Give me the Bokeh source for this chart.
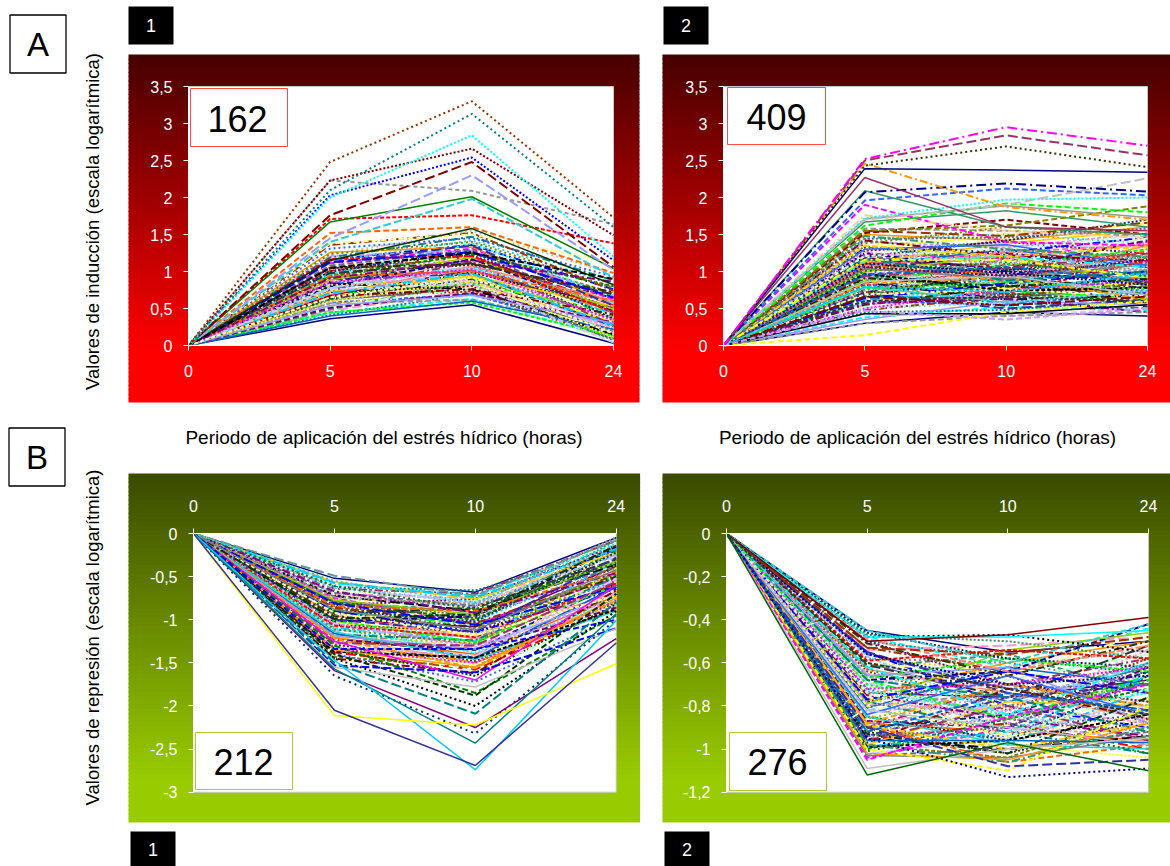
import math
from bokeh.plotting import figure
from bokeh.layouts import column, row
from bokeh.models import Range1d, LinearAxis, FixedTicker
from bokeh.core.properties import value
from bokeh.embed import file_html
from bokeh.resources import INLINE

# ---------------- data ----------------
HOURS = ["0", "5", "10", "24"]          # category labels of the x axis
XPOS = [0, 1, 2, 3]                     # category positions
A_TICKS = [0, 0.5, 1, 1.5, 2, 2.5, 3, 3.5]
B1_TICKS = [0, -0.5, -1, -1.5, -2, -2.5, -3]
B2_TICKS = [0, -0.2, -0.4, -0.6, -0.8, -1.0, -1.2]
COUNT_A1, COUNT_A2, COUNT_B1, COUNT_B2 = "162", "409", "212", "276"
X_TITLE = "Periodo de aplicación del estrés hídrico (horas)"
Y_TITLE_A = "Valores de inducción (escala logarítmica)"
Y_TITLE_B = "Valores de represión (escala logarítmica)"

# Panel A1 (induced, 1) - bulk of profiles
A1_BAND = [
    [0, 0.36, 0.55, 0.03], [0, 0.44, 0.63, 0.10], [0, 0.41, 0.70, 0.18], [0, 0.52, 0.66, 0.06],
    [0, 0.47, 0.74, 0.27], [0, 0.58, 0.69, 0.14], [0, 0.55, 0.81, 0.33], [0, 0.61, 0.77, 0.21],
    [0, 0.49, 0.86, 0.40], [0, 0.66, 0.73, 0.09], [0, 0.63, 0.90, 0.29], [0, 0.70, 0.84, 0.45],
    [0, 0.59, 0.95, 0.36], [0, 0.74, 0.88, 0.19], [0, 0.68, 1.02, 0.52], [0, 0.79, 0.93, 0.31],
    [0, 0.72, 0.80, 0.12], [0, 0.83, 1.06, 0.43], [0, 0.77, 0.98, 0.24], [0, 0.88, 1.12, 0.58],
    [0, 0.81, 0.91, 0.38], [0, 0.92, 1.01, 0.47], [0, 0.86, 1.16, 0.64], [0, 0.97, 1.09, 0.35],
    [0, 0.90, 0.97, 0.26], [0, 1.01, 1.20, 0.55], [0, 0.95, 1.26, 0.71], [0, 1.06, 1.14, 0.42],
    [0, 0.99, 1.04, 0.17], [0, 1.11, 1.31, 0.62], [0, 1.04, 1.22, 0.49], [0, 1.16, 1.36, 0.76],
    [0, 1.09, 1.18, 0.33], [0, 1.21, 1.28, 0.68], [0, 1.14, 1.42, 0.83], [0, 1.26, 1.33, 0.57],
    [0, 0.57, 0.62, 0.20], [0, 0.64, 0.99, 0.50], [0, 0.75, 1.13, 0.28], [0, 0.84, 0.76, 0.15],
    [0, 0.93, 1.24, 0.80], [0, 1.03, 0.95, 0.39], [0, 0.69, 1.07, 0.61], [0, 0.80, 1.17, 0.46],
    [0, 0.96, 1.38, 0.66], [0, 1.19, 1.47, 0.88], [0, 0.53, 0.78, 0.41], [0, 0.87, 0.87, 0.23],
    [0, 1.31, 1.45, 0.93], [0, 0.73, 0.94, 0.53], [0, 1.08, 1.29, 0.44], [0, 0.62, 0.83, 0.07],
    [0, 1.36, 1.52, 0.74], [0, 0.98, 1.11, 0.69], [0, 0.45, 0.58, 0.13], [0, 1.23, 1.55, 0.97],
    [0, 0.40, 0.60, 0.22], [0, 0.51, 0.71, 0.31], [0, 0.60, 0.87, 0.11], [0, 0.67, 0.76, 0.42],
    [0, 0.71, 0.97, 0.27], [0, 0.78, 1.05, 0.57], [0, 0.82, 0.85, 0.19], [0, 0.89, 1.19, 0.49],
    [0, 0.94, 1.00, 0.60], [0, 1.00, 1.27, 0.36], [0, 1.05, 1.10, 0.72], [0, 1.12, 1.35, 0.54],
    [0, 1.17, 1.21, 0.45], [0, 1.24, 1.40, 0.78], [0, 0.54, 0.68, 0.30], [0, 0.76, 0.83, 0.04],
    [0, 0.85, 1.03, 0.34], [0, 0.91, 1.15, 0.86], [0, 1.13, 1.26, 0.65], [0, 0.65, 0.92, 0.16],
]
# Panel A1 - profiles standing out above the bulk
A1_TOP = [
    [0, 1.38, 1.50, 1.12], [0, 1.52, 1.60, 0.98], [0, 1.15, 1.58, 0.82], [0, 1.05, 1.25, 0.90],
    [0, 1.71, 1.76, 1.38], [0, 1.40, 1.98, 0.92], [0, 1.67, 2.01, 1.04], [0, 2.23, 2.09, 1.64],
    [0, 1.45, 2.30, 1.02], [0, 1.76, 2.48, 1.06], [0, 2.03, 2.54, 1.15], [0, 2.23, 2.66, 1.49],
    [0, 2.00, 2.84, 1.20], [0, 2.10, 3.13, 1.60], [0, 2.48, 3.30, 1.73],
]

# Panel A2 (induced, 2)
A2_BAND = [
    [0, 0.30, 0.45, 0.40], [0, 0.38, 0.52, 0.48], [0, 0.45, 0.48, 0.62], [0, 0.52, 0.60, 0.55],
    [0, 0.55, 0.70, 0.66], [0, 0.60, 0.55, 0.72], [0, 0.62, 0.78, 0.58], [0, 0.66, 0.64, 0.80],
    [0, 0.70, 0.85, 0.70], [0, 0.72, 0.68, 0.86], [0, 0.75, 0.90, 0.78], [0, 0.78, 0.74, 0.64],
    [0, 0.80, 0.95, 0.92], [0, 0.83, 0.82, 0.74], [0, 0.85, 1.00, 0.98], [0, 0.88, 0.76, 0.84],
    [0, 0.90, 1.05, 0.88], [0, 0.93, 0.88, 1.02], [0, 0.95, 1.10, 0.95], [0, 0.98, 0.92, 1.08],
    [0, 1.00, 1.15, 1.00], [0, 1.03, 0.97, 0.90], [0, 1.05, 1.20, 1.14], [0, 1.08, 1.02, 1.20],
    [0, 1.10, 1.25, 1.06], [0, 1.13, 1.08, 1.26], [0, 1.15, 1.30, 1.18], [0, 1.18, 1.12, 1.00],
    [0, 1.20, 1.35, 1.32], [0, 1.24, 1.18, 1.40], [0, 1.28, 1.40, 1.24], [0, 1.32, 1.26, 1.46],
    [0, 1.36, 1.45, 1.30], [0, 1.40, 1.32, 1.52], [0, 1.45, 1.50, 1.38], [0, 1.50, 1.42, 1.60],
    [0, 1.58, 1.55, 1.48], [0, 0.65, 1.02, 1.10], [0, 0.75, 1.18, 0.82], [0, 0.85, 0.62, 0.68],
    [0, 0.95, 0.70, 0.60], [0, 1.05, 0.80, 0.75], [0, 1.15, 0.90, 1.35], [0, 1.25, 1.00, 0.85],
    [0, 0.58, 0.88, 1.22], [0, 0.68, 0.58, 0.50], [0, 0.82, 1.12, 1.45], [0, 0.92, 1.28, 1.12],
    [0, 1.02, 0.66, 0.92], [0, 1.12, 1.38, 1.56], [0, 1.22, 0.95, 1.12], [0, 1.34, 1.10, 0.96],
    [0, 0.48, 0.66, 0.85], [0, 0.72, 0.96, 0.52], [0, 0.88, 1.08, 1.30], [0, 0.98, 0.84, 0.70],
    [0, 1.08, 1.30, 1.05], [0, 1.18, 1.04, 1.42], [0, 1.30, 1.50, 1.65], [0, 1.42, 1.22, 1.15],
    [0, 0.62, 0.72, 0.95], [0, 0.78, 0.62, 0.45], [0, 0.90, 0.98, 0.58], [0, 1.00, 1.22, 0.80],
    [0, 1.10, 0.86, 1.28], [0, 1.20, 1.42, 1.70], [0, 0.55, 0.80, 0.70], [0, 0.70, 0.50, 0.62],
    [0, 0.82, 0.70, 1.15], [0, 1.38, 1.60, 1.50],
    [0, 0.35, 0.60, 0.55], [0, 0.42, 0.40, 0.50], [0, 0.50, 0.75, 0.88], [0, 0.57, 0.63, 0.45],
    [0, 0.64, 0.84, 1.00], [0, 0.69, 0.76, 0.66], [0, 0.74, 0.98, 1.18], [0, 0.79, 0.58, 0.74],
    [0, 0.84, 0.92, 0.62], [0, 0.87, 1.16, 1.02], [0, 0.91, 0.80, 0.90], [0, 0.94, 1.04, 1.24],
    [0, 0.97, 0.74, 0.78], [0, 1.01, 1.12, 0.94], [0, 1.04, 0.90, 1.10], [0, 1.07, 1.26, 1.36],
    [0, 1.11, 0.98, 0.82], [0, 1.14, 1.20, 1.06], [0, 1.17, 0.88, 1.00], [0, 1.21, 1.30, 1.50],
    [0, 1.26, 1.10, 1.22], [0, 1.30, 1.36, 1.08], [0, 1.35, 1.20, 1.34], [0, 1.44, 1.46, 1.58],
    [0, 1.48, 1.30, 1.20], [0, 1.55, 1.48, 1.66], [0, 0.60, 0.66, 0.58], [0, 0.76, 0.86, 0.76],
    [0, 0.86, 0.94, 0.68], [0, 0.96, 1.06, 0.86], [0, 1.06, 0.94, 1.16], [0, 1.16, 1.16, 0.92],
    [0, 0.66, 0.54, 0.66], [0, 0.80, 0.72, 0.98], [0, 0.50, 0.58, 0.74],
]
A2_TOP = [
    [0, 0.30, 0.40, 0.45], [0, 0.14, 0.45, 0.60], [0, 0.43, 0.43, 0.55], [0, 0.47, 0.35, 0.50],
    [0, 1.52, 1.70, 1.50], [0, 1.55, 1.62, 1.88], [0, 1.90, 1.40, 1.35], [0, 1.67, 1.82, 1.60],
    [0, 1.76, 1.55, 1.45], [0, 1.71, 1.89, 1.73], [0, 1.62, 1.92, 1.80], [0, 1.72, 1.97, 2.00],
    [0, 1.96, 2.12, 2.03], [0, 2.09, 1.60, 1.50], [0, 1.70, 1.90, 2.26], [0, 2.07, 2.19, 2.08],
    [0, 2.27, 1.60, 1.55], [0, 2.46, 1.87, 1.70], [0, 2.39, 2.37, 2.34], [0, 2.43, 2.69, 2.41],
    [0, 2.50, 2.84, 2.57], [0, 2.52, 2.95, 2.70],
]

# Panel B1 (repressed, 1)
B1_BAND = [
    [0, -0.52, -0.68, -0.05], [0, -0.58, -0.72, -0.12], [0, -0.62, -0.66, -0.20], [0, -0.66, -0.78, -0.10],
    [0, -0.70, -0.75, -0.28], [0, -0.73, -0.85, -0.18], [0, -0.76, -0.80, -0.35], [0, -0.79, -0.92, -0.25],
    [0, -0.82, -0.88, -0.15], [0, -0.85, -0.98, -0.40], [0, -0.88, -0.94, -0.30], [0, -0.91, -1.05, -0.48],
    [0, -0.94, -1.00, -0.22], [0, -0.97, -1.12, -0.55], [0, -1.00, -1.08, -0.38], [0, -1.03, -1.18, -0.45],
    [0, -1.06, -1.14, -0.60], [0, -1.09, -1.25, -0.32], [0, -1.12, -1.20, -0.52], [0, -1.15, -1.32, -0.66],
    [0, -1.18, -1.28, -0.42], [0, -1.21, -1.40, -0.72], [0, -1.25, -1.35, -0.58], [0, -1.29, -1.48, -0.80],
    [0, -1.33, -1.45, -0.62], [0, -1.38, -1.58, -0.85], [0, -1.43, -1.55, -0.70], [0, -0.60, -0.82, -0.30],
    [0, -0.68, -0.95, -0.44], [0, -0.75, -1.05, -0.52], [0, -0.83, -0.76, -0.14], [0, -0.90, -1.15, -0.64],
    [0, -0.98, -0.90, -0.26], [0, -1.05, -1.30, -0.76], [0, -1.13, -1.02, -0.34], [0, -1.20, -1.50, -0.88],
    [0, -1.28, -1.10, -0.46], [0, -1.35, -1.65, -0.82], [0, -0.64, -0.70, -0.08], [0, -0.72, -0.90, -0.36],
    [0, -0.80, -1.00, -0.20], [0, -0.87, -1.10, -0.56], [0, -0.95, -1.22, -0.68], [0, -1.02, -0.96, -0.16],
    [0, -1.10, -1.38, -0.78], [0, -1.17, -1.24, -0.50], [0, -1.24, -1.60, -0.92], [0, -1.32, -1.42, -0.54],
    [0, -1.40, -1.72, -0.96], [0, -0.56, -0.76, -0.22], [0, -0.69, -0.84, -0.40], [0, -0.78, -0.96, -0.08],
    [0, -0.86, -1.04, -0.48], [0, -0.93, -0.86, -0.30], [0, -1.01, -1.26, -0.60], [0, -1.08, -1.16, -0.74],
    [0, -1.16, -1.44, -0.62], [0, -1.23, -1.34, -0.86], [0, -1.31, -1.52, -0.40], [0, -1.45, -1.62, -0.66],
    [0, -0.57, -0.74, -0.18], [0, -0.63, -0.80, -0.26], [0, -0.71, -0.86, -0.12], [0, -0.77, -0.94, -0.32],
    [0, -0.84, -0.90, -0.44], [0, -0.89, -1.02, -0.22], [0, -0.96, -1.08, -0.50], [0, -1.00, -1.14, -0.28],
    [0, -1.07, -1.20, -0.58], [0, -1.11, -1.28, -0.36], [0, -1.19, -1.34, -0.70], [0, -1.26, -1.42, -0.52],
    [0, -1.34, -1.50, -0.78], [0, -0.67, -0.92, -0.46], [0, -0.81, -1.06, -0.62], [0, -0.92, -1.18, -0.72],
    [0, -1.04, -1.32, -0.84], [0, -1.14, -1.46, -0.90], [0, -1.22, -1.56, -0.78], [0, -0.74, -0.82, -0.04],
    [0, -0.99, -0.94, -0.14], [0, -1.27, -1.30, -0.56], [0, -1.37, -1.44, -0.88], [0, -0.61, -0.88, -0.34],
    [0, -0.88, -1.12, -0.42],
]
B1_TOP = [
    [0, -0.49, -0.72, -0.08], [0, -0.55, -0.80, -0.12], [0, -1.35, -1.55, -0.75], [0, -1.25, -1.70, -0.60],
    [0, -1.30, -1.85, -0.95], [0, -1.45, -2.00, -0.90], [0, -1.40, -1.88, -0.70], [0, -1.34, -1.34, -1.00],
    [0, -1.53, -1.61, -1.10], [0, -1.55, -1.78, -1.10], [0, -1.50, -2.09, -0.80], [0, -1.65, -2.32, -1.00],
    [0, -1.59, -2.25, -1.22], [0, -1.57, -2.43, -0.93], [0, -1.47, -2.74, -1.01], [0, -2.11, -2.22, -1.51],
    [0, -2.05, -2.69, -1.27],
]

# Panel B2 (repressed, 2)
B2_BAND = [
    [0, -0.45, -0.55, -0.50], [0, -0.48, -0.62, -0.44], [0, -0.50, -0.58, -0.65], [0, -0.52, -0.68, -0.56],
    [0, -0.54, -0.52, -0.48], [0, -0.56, -0.72, -0.70], [0, -0.58, -0.64, -0.52], [0, -0.60, -0.78, -0.62],
    [0, -0.62, -0.56, -0.74], [0, -0.64, -0.82, -0.58], [0, -0.66, -0.70, -0.80], [0, -0.68, -0.86, -0.66],
    [0, -0.70, -0.62, -0.54], [0, -0.72, -0.90, -0.84], [0, -0.74, -0.76, -0.68], [0, -0.76, -0.94, -0.76],
    [0, -0.78, -0.66, -0.88], [0, -0.80, -0.98, -0.72], [0, -0.82, -0.80, -0.60], [0, -0.84, -1.00, -0.92],
    [0, -0.86, -0.72, -0.78], [0, -0.88, -0.92, -0.96], [0, -0.90, -0.84, -0.64], [0, -0.92, -1.02, -0.86],
    [0, -0.94, -0.76, -0.70], [0, -0.96, -0.88, -1.00], [0, -0.98, -1.04, -0.82], [0, -1.00, -0.82, -0.90],
    [0, -1.02, -0.95, -0.76], [0, -1.04, -0.90, -0.98], [0, -0.50, -0.70, -0.78], [0, -0.55, -0.80, -0.90],
    [0, -0.60, -0.66, -0.46], [0, -0.65, -0.88, -0.96], [0, -0.70, -0.78, -0.60], [0, -0.75, -0.60, -0.50],
    [0, -0.80, -0.74, -0.84], [0, -0.85, -0.96, -0.66], [0, -0.90, -0.70, -0.58], [0, -0.95, -1.00, -0.94],
    [0, -1.00, -0.86, -0.72], [0, -0.58, -0.60, -0.70], [0, -0.63, -0.74, -0.86], [0, -0.68, -0.64, -0.42],
    [0, -0.73, -0.84, -0.74], [0, -0.78, -0.92, -1.02], [0, -0.83, -0.68, -0.56], [0, -0.88, -0.80, -0.88],
    [0, -0.93, -0.94, -0.68], [0, -0.98, -0.78, -0.80], [0, -1.03, -1.00, -0.92], [0, -0.47, -0.50, -0.58],
    [0, -0.53, -0.64, -0.74], [0, -0.61, -0.76, -0.52], [0, -0.67, -0.58, -0.64], [0, -0.77, -0.86, -0.82],
    [0, -0.81, -0.62, -0.70], [0, -0.87, -0.90, -0.62], [0, -0.91, -0.98, -1.04], [0, -0.97, -0.72, -0.86],
    [0, -0.99, -0.92, -0.66], [0, -0.57, -0.84, -0.94], [0, -0.71, -0.96, -0.86], [0, -0.79, -0.54, -0.46],
    [0, -0.89, -1.06, -0.98],
    [0, -0.46, -0.58, -0.62], [0, -0.51, -0.66, -0.50], [0, -0.55, -0.74, -0.82], [0, -0.59, -0.54, -0.58],
    [0, -0.63, -0.80, -0.70], [0, -0.66, -0.62, -0.88], [0, -0.69, -0.92, -0.80], [0, -0.72, -0.70, -0.62],
    [0, -0.75, -0.86, -0.94], [0, -0.77, -0.64, -0.74], [0, -0.80, -0.94, -0.84], [0, -0.83, -0.76, -0.66],
    [0, -0.85, -0.98, -1.00], [0, -0.88, -0.70, -0.80], [0, -0.91, -0.86, -0.92], [0, -0.93, -1.02, -0.76],
    [0, -0.96, -0.80, -0.96], [0, -0.99, -0.96, -0.84], [0, -1.01, -0.88, -1.02], [0, -1.03, -1.04, -0.94],
    [0, -0.49, -0.64, -0.52], [0, -0.56, -0.70, -0.66], [0, -0.62, -0.84, -0.60], [0, -0.68, -0.76, -0.92],
    [0, -0.74, -0.94, -0.72], [0, -0.79, -0.82, -0.54], [0, -0.84, -0.66, -0.84], [0, -0.89, -1.00, -0.88],
    [0, -0.94, -0.90, -0.60], [0, -0.98, -1.06, -0.90], [0, -0.53, -0.56, -0.48], [0, -0.60, -0.72, -0.84],
    [0, -0.70, -0.86, -0.68], [0, -0.82, -0.90, -0.98], [0, -0.92, -0.74, -0.82],
]
B2_TOP = [
    [0, -0.45, -0.60, -0.42], [0, -1.02, -1.05, -0.88], [0, -1.00, -1.10, -0.80], [0, -1.05, -0.85, -0.70],
    [0, -0.48, -0.47, -0.55], [0, -0.48, -0.48, -0.45], [0, -0.50, -0.47, -0.39], [0, -0.96, -0.96, -0.97],
    [0, -1.09, -1.00, -0.95], [0, -0.90, -1.08, -1.05], [0, -0.95, -1.13, -1.09], [0, -1.12, -0.97, -1.10],
]

# ---------------- styles ----------------
PALETTE = ["#000080", "#FF00FF", "#FFFF00", "#00FFFF", "#800080", "#800000", "#008080", "#0000FF",
           "#00CCFF", "#CCFFCC", "#FFFF99", "#99CCFF", "#FF99CC", "#CC99FF", "#FFCC99", "#3366FF",
           "#33CCCC", "#99CC00", "#FFCC00", "#FF9900", "#FF6600", "#666699", "#969696", "#003366",
           "#339966", "#003300", "#333300", "#993300", "#993366", "#333399", "#333333", "#000000",
           "#FF0000", "#00FF00", "#008000", "#808000", "#C0C0C0", "#808080", "#9999FF", "#0066CC",
           "#FF8080", "#CCCCFF", "#660066"]
DASHES = ["solid", "6 3", "2 2", "8 3 2 3", "10 4", "4 2", "2 3"]

A1_TOP_STYLE = [("#FFFF99", "6 3"), ("#FF6600", "6 3"), ("#003300", "solid"), ("#000000", "6 3"),
                ("#FF0000", "4 2"), ("#33CCCC", "8 3"), ("#008000", "solid"), ("#969696", "4 3"),
                ("#9999FF", "10 4"), ("#800000", "10 4"), ("#0000FF", "2 2"), ("#800000", "2 2"),
                ("#00FFFF", "2 2"), ("#008080", "2 3"), ("#993300", "2 3")]
A2_TOP_STYLE = [("#969696", "6 3"), ("#FFFF00", "6 3"), ("#000000", "solid"), ("#CC99FF", "6 3"),
                ("#800000", "6 3"), ("#808000", "6 3"), ("#FF00FF", "6 3"), ("#339966", "solid"),
                ("#FFCC99", "8 3 2 3"), ("#969696", "solid"), ("#00FF00", "6 3"), ("#00FFFF", "2 2"),
                ("#3366FF", "6 3"), ("#339966", "solid"), ("#C0C0C0", "10 4"), ("#000080", "10 4 2 4"),
                ("#993366", "solid"), ("#FF9900", "8 3 2 3"), ("#000080", "solid"), ("#333300", "2 3"),
                ("#993366", "10 4"), ("#FF00FF", "10 4 2 4")]
B1_TOP_STYLE = [("#669999", "10 4"), ("#33CCCC", "2 3"), ("#FF9900", "solid"), ("#FF00FF", "solid"),
                ("#008000", "6 3"), ("#000000", "2 3"), ("#003300", "6 3"), ("#0000FF", "6 3"),
                ("#0000FF", "8 3"), ("#C0C0C0", "solid"), ("#008080", "10 4"), ("#003366", "2 4"),
                ("#800080", "solid"), ("#008080", "solid"), ("#00CCFF", "solid"), ("#FFFF00", "solid"),
                ("#333399", "solid")]
B2_TOP_STYLE = [("#33CCCC", "6 3"), ("#FF9900", "solid"), ("#FFFF00", "6 3"), ("#FF00FF", "6 3"),
                ("#000000", "2 3"), ("#00FFFF", "solid"), ("#800000", "solid"), ("#0066CC", "solid"),
                ("#C0C0C0", "solid"), ("#333399", "10 4"), ("#000080", "2 3"), ("#006600", "solid")]

FONT = "Liberation Sans"


def hexmix(c0, c1, t):
    a = [int(c0[i:i + 2], 16) for i in (1, 3, 5)]
    b = [int(c1[i:i + 2], 16) for i in (1, 3, 5)]
    return "#%02x%02x%02x" % tuple(int(round(a[k] + (b[k] - a[k]) * t)) for k in range(3))


def make_panel(fx0, fy0, w, h, px0, px3, py_top, py_bot, y_top, y_bot):
    sx = (px3 - px0) / 3.0
    sy = (py_bot - py_top) / (y_top - y_bot)

    def X(px):
        return (px - px0) / sx

    def Y(py):
        return y_top - (py - py_top) / sy

    p = figure(width=w, height=h, x_range=Range1d(X(fx0), X(fx0 + w)),
               y_range=Range1d(Y(fy0 + h), Y(fy0)), output_backend="svg",
               toolbar_location=None, min_border=0, x_axis_type=None, y_axis_type=None,
               title=None)
    p.outline_line_color = None
    p.background_fill_color = "white"
    p.border_fill_color = "white"
    return p, X, Y


def gradient(p, X, Y, left, right, top, bottom, c0, c1, frac, n=80):
    step = (bottom - top) / n
    tops, bots, cols = [], [], []
    for i in range(n):
        a = top + i * step
        b = min(bottom, a + step + 0.8)
        tops.append(Y(a))
        bots.append(Y(b))
        cols.append(hexmix(c0, c1, min(1.0, (i + 0.5) / n / frac)))
    p.quad(left=[X(left)] * n, right=[X(right)] * n, top=tops, bottom=bots,
           fill_color=cols, line_color=None)


def plot_area(p, y_top, y_bot):
    p.quad(left=[0], right=[3], top=[y_top], bottom=[y_bot], fill_color="white",
           line_color="#C8C8C8", line_width=1)


def draw_lines(p, band, top, top_style):
    for i, ys in enumerate(band):
        dash = DASHES[i % len(DASHES)]
        p.line(XPOS, ys, line_color=PALETTE[(i * 3) % len(PALETTE)], line_dash=dash,
               line_width=1.5 if dash == "solid" else 2.0)
    for ys, (col, dash) in zip(top, top_style):
        p.line(XPOS, ys, line_color=col, line_dash=dash,
               line_width=1.5 if dash == "solid" else 2.0)


def style_axis(ax, standoff):
    ax.axis_line_color = "white"
    ax.major_tick_line_color = "white"
    ax.major_tick_out = 5
    ax.major_tick_in = 0
    ax.minor_tick_line_color = None
    ax.major_label_text_color = "white"
    ax.major_label_text_font = FONT
    ax.major_label_text_font_size = "16px"
    ax.major_label_standoff = standoff


def axes(p, ticks, x_side, x_standoff):
    xa = LinearAxis(fixed_location=0, bounds=(0, 3), ticker=FixedTicker(ticks=XPOS),
                    major_label_overrides={i: HOURS[i] for i in XPOS})
    style_axis(xa, x_standoff)
    p.add_layout(xa, x_side)
    ya = LinearAxis(fixed_location=0, bounds=(min(ticks), max(ticks)),
                    ticker=FixedTicker(ticks=ticks),
                    major_label_overrides={t: ("%g" % t).replace(".", ",") for t in ticks})
    style_axis(ya, 11)
    p.add_layout(ya, "left")


def box(p, X, Y, l, t, r, b, fill, line, lw=1.0):
    p.quad(left=[X(l)], right=[X(r)], top=[Y(t)], bottom=[Y(b)], fill_color=fill,
           line_color=line, line_width=lw)


def text(p, X, Y, px, py, s, size, color="black", angle=0.0):
    p.text(x=[X(px)], y=[Y(py)], text=[s], text_font=value(FONT), text_font_size=size,
           text_color=color, text_align="center", text_baseline="middle", angle=angle)


RED0, RED1 = "#460000", "#FF0000"
GRN0, GRN1 = "#3A4A00", "#99CC00"
W_L, W_R = 650, 520
H_T, H_B = 415, 451

# ---- A1 ----
p1, X, Y = make_panel(0, 0, W_L, H_T, 188, 613, 86, 345, 3.5, 0)
gradient(p1, X, Y, 128, 639, 54, 402, RED0, RED1, 0.85)
plot_area(p1, 3.5, 0)
draw_lines(p1, A1_BAND, A1_TOP, A1_TOP_STYLE)
axes(p1, A_TICKS, "below", 14)
box(p1, X, Y, 190, 88, 287, 146, "white", "#FF4A4A")
text(p1, X, Y, 237, 118, COUNT_A1, "36px")
box(p1, X, Y, 9.5, 14.5, 65.5, 72.5, "white", "black", 1.3)
text(p1, X, Y, 37.5, 44, "A", "33px")
box(p1, X, Y, 128, 6, 173, 44, "black", None)
text(p1, X, Y, 150.5, 25, "1", "18px", "white")
text(p1, X, Y, 92, 221, Y_TITLE_A, "18.5px", angle=math.pi / 2)

# ---- A2 ----
p2, X, Y = make_panel(650, 0, W_R, H_T, 723, 1147, 86, 345, 3.5, 0)
gradient(p2, X, Y, 662, 1175, 54, 402, RED0, RED1, 0.85)
plot_area(p2, 3.5, 0)
draw_lines(p2, A2_BAND, A2_TOP, A2_TOP_STYLE)
axes(p2, A_TICKS, "below", 14)
box(p2, X, Y, 727, 87, 825, 144, "white", "#FF4A4A")
text(p2, X, Y, 776, 116, COUNT_A2, "36px")
box(p2, X, Y, 663, 6, 708, 44, "black", None)
text(p2, X, Y, 685.5, 25, "2", "18px", "white")

# ---- B1 ----
p3, X, Y = make_panel(0, 415, W_L, H_B, 193, 615.7, 533, 791.7, 0, -3)
gradient(p3, X, Y, 128, 639.6, 473, 822, GRN0, GRN1, 0.88)
plot_area(p3, 0, -3)
draw_lines(p3, B1_BAND, B1_TOP, B1_TOP_STYLE)
axes(p3, B1_TICKS, "above", 17)
box(p3, X, Y, 195, 732, 292, 789, "white", "#A6CF33")
text(p3, X, Y, 243, 761, COUNT_B1, "36px")
box(p3, X, Y, 8.5, 427.5, 64.5, 485.5, "white", "black", 1.3)
text(p3, X, Y, 36.5, 457, "B", "33px")
box(p3, X, Y, 130, 831, 175, 870, "black", None)
text(p3, X, Y, 152.5, 849, "1", "18px", "white")
text(p3, X, Y, 92, 637, Y_TITLE_B, "18.5px", angle=math.pi / 2)
text(p3, X, Y, 383.5, 437, X_TITLE, "19px")

# ---- B2 ----
p4, X, Y = make_panel(650, 415, W_R, H_B, 726, 1148, 533, 791.7, 0, -1.2)
gradient(p4, X, Y, 662, 1175, 473, 822, GRN0, GRN1, 0.88)
plot_area(p4, 0, -1.2)
draw_lines(p4, B2_BAND, B2_TOP, B2_TOP_STYLE)
axes(p4, B2_TICKS, "above", 17)
box(p4, X, Y, 729, 732, 826, 790, "white", "#A6CF33")
text(p4, X, Y, 777, 761, COUNT_B2, "36px")
box(p4, X, Y, 664, 831, 709, 870, "black", None)
text(p4, X, Y, 686.5, 849, "2", "18px", "white")
text(p4, X, Y, 917, 437, X_TITLE, "19px")

layout = column(row(p1, p2), row(p3, p4))
open("out.html", "w").write(file_html(layout, INLINE))
